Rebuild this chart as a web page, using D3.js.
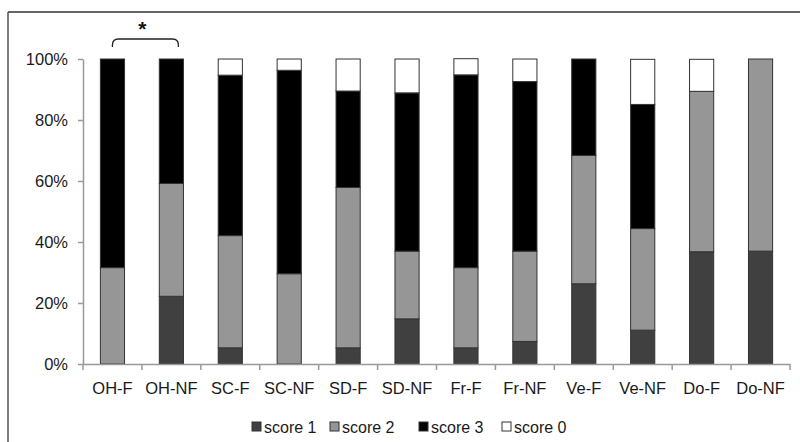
<!DOCTYPE html>
<html>
<head>
<meta charset="utf-8">
<script src="https://cdn.jsdelivr.net/npm/d3@7"></script>
<style>
  body { margin: 0; background: #fff; }
  svg { display: block; font-family: "Liberation Sans", Arial, sans-serif; }
</style>
</head>
<body>
<svg width="800" height="442"></svg>
<script>
// categories and percentages for each score
const groups = ["OH-F", "OH-NF", "SC-F", "SC-NF", "SD-F", "SD-NF", "Fr-F", "Fr-NF", "Ve-F", "Ve-NF", "Do-F", "Do-NF"];
const score1 = [0, 22.2, 5.3, 0, 5.3, 14.8, 5.3, 7.4, 26.3, 11.1, 36.8, 37.0];
const score2 = [31.6, 37.0, 36.8, 29.6, 52.6, 22.2, 26.3, 29.6, 42.1, 33.3, 52.6, 63.0];
const score3 = [68.4, 40.8, 52.6, 66.7, 31.6, 51.9, 63.2, 55.6, 31.6, 40.7, 0, 0];
const score0 = [0, 0, 5.3, 3.7, 10.5, 11.1, 5.3, 7.4, 0, 14.8, 10.5, 0];
const seriesNames = ["score 1", "score 2", "score 3", "score 0"];
const yTicks = [0, 20, 40, 60, 80, 100];

const colors = {"score 1": "#404040", "score 2": "#969696", "score 3": "#000000", "score 0": "#ffffff"};

const svg = d3.select("svg");

// frame (only top and left edges show in the original)
svg.append("line").attr("x1", 8).attr("x2", 800).attr("y1", 12).attr("y2", 12)
    .attr("stroke", "#333").attr("stroke-width", 1.5);
svg.append("line").attr("x1", 8).attr("x2", 8).attr("y1", 12).attr("y2", 442)
    .attr("stroke", "#555").attr("stroke-width", 1.5);

// build table for stacking
const table = groups.map((g, i) => ({
    group: g,
    "score 1": score1[i],
    "score 2": score2[i],
    "score 3": score3[i],
    "score 0": score0[i]
}));
const stacked = d3.stack().keys(seriesNames)(table);

const x = d3.scaleBand()
    .domain(groups)
    .range([83, 790])
    .paddingInner(0.59)
    .paddingOuter(0.295);

const y = d3.scaleLinear()
    .domain([0, 100])
    .range([364, 59]);

// bars
svg.append("g")
    .selectAll("g")
    .data(stacked)
    .join("g")
    .attr("fill", d => colors[d.key])
    .selectAll("rect")
    .data(d => d)
    .join("rect")
    .attr("x", d => x(d.data.group))
    .attr("width", x.bandwidth())
    .attr("y", d => y(d[1]))
    .attr("height", d => y(d[0]) - y(d[1]))
    .attr("stroke", d => (d[1] - d[0]) > 0 ? "#333" : "none")
    .attr("stroke-width", 1);

// y axis
const yAxis = svg.append("g")
    .attr("transform", "translate(83,0)")
    .call(d3.axisLeft(y).tickValues(yTicks).tickFormat(d => d + "%")
        .tickSize(5).tickSizeOuter(0).tickPadding(10));
yAxis.select(".domain").attr("stroke", "#999").attr("stroke-width", 1.5);
yAxis.selectAll(".tick line").attr("stroke", "#999").attr("stroke-width", 1.5);
yAxis.selectAll("text").attr("font-size", 16.5).attr("fill", "#1a1a1a")
    .attr("font-family", "Liberation Sans, Arial, sans-serif");

// x axis: labels centred, ticks on band boundaries
const xAxis = svg.append("g")
    .attr("transform", "translate(0,364)")
    .call(d3.axisBottom(x).tickSize(0).tickSizeOuter(0).tickPadding(18));
xAxis.select(".domain").attr("stroke", "#999").attr("stroke-width", 1.5);
xAxis.selectAll("text").attr("font-size", 16.5).attr("fill", "#1a1a1a")
    .attr("font-family", "Liberation Sans, Arial, sans-serif");

const gap = (x.step() - x.bandwidth()) / 2;
const bounds = groups.map(g => x(g) - gap).concat([x.range()[1]]);
svg.append("g")
    .selectAll("line")
    .data(bounds)
    .join("line")
    .attr("x1", d => d).attr("x2", d => d)
    .attr("y1", 364).attr("y2", 370)
    .attr("stroke", "#999").attr("stroke-width", 1.5);

// significance bracket between OH-F and OH-NF
const bx1 = x("OH-F") + x.bandwidth() / 2;
const bx2 = x("OH-NF") + x.bandwidth() / 2 + 7;
const by = 39, bb = 47, r = 6;
svg.append("path")
    .attr("d", `M${bx1},${bb} L${bx1},${by + r} Q${bx1},${by} ${bx1 + r},${by} L${bx2 - r},${by} Q${bx2},${by} ${bx2},${by + r} L${bx2},${bb}`)
    .attr("fill", "none")
    .attr("stroke", "#222")
    .attr("stroke-width", 1.3);
svg.append("text")
    .attr("x", (bx1 + bx2) / 2 - 3)
    .attr("y", 36)
    .attr("text-anchor", "middle")
    .attr("font-size", 21)
    .attr("font-weight", "bold")
    .attr("fill", "#111")
    .text("*");

// legend
const legendX = [252, 330, 419, 502];
const legend = svg.append("g")
    .selectAll("g")
    .data(seriesNames)
    .join("g")
    .attr("transform", (d, i) => `translate(${legendX[i]},427)`);
legend.append("rect")
    .attr("x", 0).attr("y", -5)
    .attr("width", 9).attr("height", 9)
    .attr("fill", d => colors[d])
    .attr("stroke", "#333").attr("stroke-width", 1);
legend.append("text")
    .attr("x", 12).attr("y", 0)
    .attr("dy", "0.35em")
    .attr("font-size", 16)
    .attr("fill", "#1a1a1a")
    .text(d => d);
</script>
</body>
</html>
